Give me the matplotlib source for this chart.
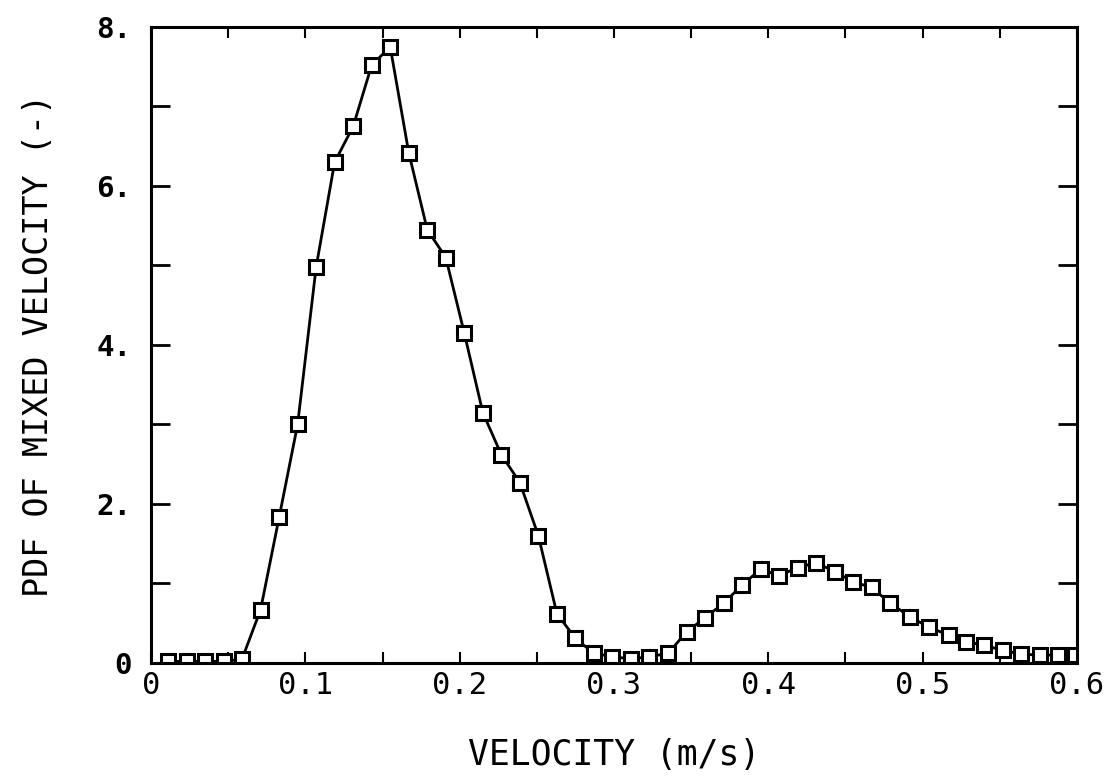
import numpy as np
import matplotlib
matplotlib.use('Agg')
import matplotlib.pyplot as plt

# Valores (velocidade em m/s, PDF adimensional)
velocidade = [0.011, 0.023, 0.035, 0.047, 0.059, 0.071, 0.083, 0.095, 0.107, 0.119,
              0.131, 0.143, 0.155, 0.167, 0.179, 0.191, 0.203, 0.215, 0.227, 0.239,
              0.251, 0.263, 0.275, 0.287, 0.299, 0.311, 0.323, 0.335, 0.347, 0.359,
              0.371, 0.383, 0.395, 0.407, 0.419, 0.431, 0.443, 0.455, 0.467, 0.479,
              0.492, 0.504, 0.517, 0.528, 0.540, 0.552, 0.564, 0.576, 0.588, 0.599]
pdf = [0.02, 0.02, 0.02, 0.02, 0.05, 0.67, 1.83, 3.00, 4.98, 6.30,
       6.75, 7.52, 7.75, 6.42, 5.45, 5.10, 4.15, 3.15, 2.62, 2.27,
       1.60, 0.62, 0.31, 0.12, 0.08, 0.05, 0.08, 0.12, 0.39, 0.57,
       0.75, 0.98, 1.18, 1.10, 1.20, 1.26, 1.15, 1.02, 0.95, 0.75,
       0.58, 0.45, 0.35, 0.27, 0.22, 0.16, 0.11, 0.10, 0.10, 0.10]

x_ticks = [0, 0.1, 0.2, 0.3, 0.4, 0.5, 0.6]
x_labels = ['0', '0.1', '0.2', '0.3', '0.4', '0.5', '0.6']
y_ticks = [0, 2, 4, 6, 8]
y_labels = ['0', '2.', '4.', '6.', '8.']

fig = plt.figure(figsize=(11.12, 7.82), dpi=100)
ax = fig.add_axes([0.1358, 0.1522, 0.8327, 0.8133])

ax.plot(velocidade, pdf, color='black', linewidth=2.0, marker='s', markersize=10.5,
        markerfacecolor='white', markeredgecolor='black', markeredgewidth=2.2)

ax.set_xlim(0, 0.6)
ax.set_ylim(0, 8)

ax.set_xticks(x_ticks)
ax.set_xticklabels(x_labels, fontfamily='DejaVu Sans Mono', fontsize=22)
ax.set_xticks(np.arange(0.05, 0.6, 0.1), minor=True)
ax.set_yticks(y_ticks)
ax.set_yticklabels(y_labels, fontfamily='DejaVu Sans Mono', fontsize=21, fontweight='bold')
ax.set_yticks([1, 3, 5, 7], minor=True)

ax.tick_params(axis='x', which='both', direction='in', length=8, width=1.5,
               top=True, bottom=True, pad=6)
ax.tick_params(axis='y', which='both', direction='in', length=14, width=2,
               left=True, right=True, pad=14)

for s in ax.spines.values():
    s.set_linewidth(2.2)

ax.set_xlabel('VELOCITY (m/s)', fontfamily='DejaVu Sans Mono', fontsize=25, labelpad=27)
ax.set_ylabel('PDF OF MIXED VELOCITY (-)', fontfamily='DejaVu Sans Mono', fontsize=24,
              labelpad=30)

fig.savefig('out.png', dpi=100)
